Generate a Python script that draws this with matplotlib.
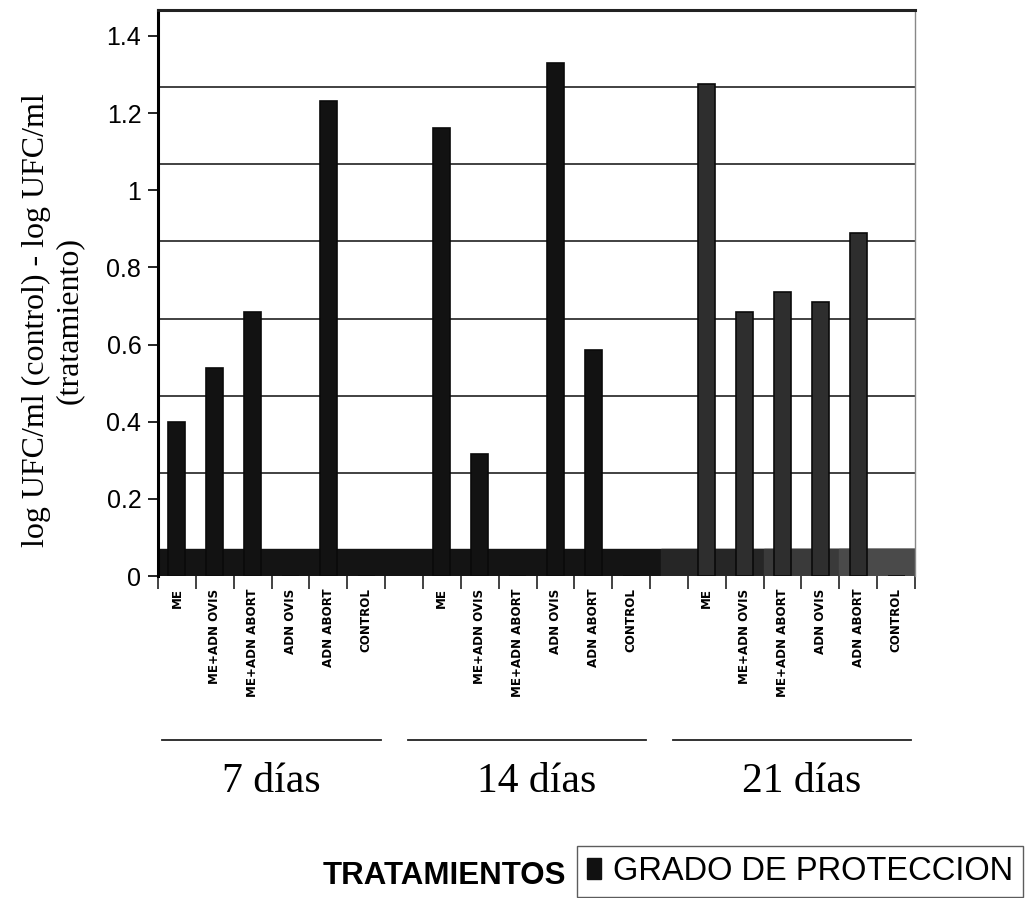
import matplotlib
matplotlib.use("Agg")
import matplotlib.pyplot as plt
import matplotlib.transforms as mtransforms
from matplotlib.patches import Patch
from matplotlib.ticker import FuncFormatter

# ---- data ----
groups = ["7 días", "14 días", "21 días"]
treatments = ["ME", "ME+ADN OVIS", "ME+ADN ABORT", "ADN OVIS", "ADN ABORT", "CONTROL"]
dias7 = [0.40, 0.54, 0.685, 0.0, 1.23, 0.0]
dias14 = [1.16, 0.315, 0.0, 1.33, 0.585, 0.0]
dias21 = [1.275, 0.685, 0.735, 0.71, 0.89, 0.0]
series = [dias7, dias14, dias21]
yticks = [0, 0.2, 0.4, 0.6, 0.8, 1.0, 1.2, 1.4]
ylabel = "log UFC/ml (control) - log UFC/ml\n(tratamiento)"
xlabel = "TRATAMIENTOS"
legend_label = "GRADO DE PROTECCION"

SERIF = ["Liberation Serif", "DejaVu Serif"]
SANS = ["Liberation Sans", "DejaVu Sans"]
LABEL_FONT = ["DejaVu Sans"]

fig = plt.figure(figsize=(10.32, 8.98), dpi=100)
ax = fig.add_axes([158 / 1032, 1 - 576 / 898, (915 - 158) / 1032, (576 - 10) / 898])

n = len(treatments)
slot = n + 1
nslots = len(groups) * slot - 1
ax.set_xlim(0, nslots)
ax.set_ylim(0, 1.467)

# floor band (3D floor)
floor_h = 0.07
ax.axhspan(0, floor_h, xmin=0, xmax=1, color="#141414", zorder=1)
ax.axhspan(0, floor_h, xmin=13.3 / nslots, xmax=1, color="#262626", zorder=1)
ax.axhspan(0, floor_h, xmin=16.0 / nslots, xmax=1, color="#3a3a3a", zorder=1)
ax.axhspan(0, floor_h, xmin=18.0 / nslots, xmax=1, color="#4a4a4a", zorder=1)

bar_colors = ["#121212", "#121212", "#2e2e2e"]
centers = []
labels = []
for g, vals in enumerate(series):
    xs = [g * slot + i + 0.5 for i in range(n)]
    centers += xs
    labels += treatments
    ax.bar(xs, vals, width=0.45, color=bar_colors[g], edgecolor="#0a0a0a",
           linewidth=1.2, zorder=3)

# axes ticks
ax.set_xticks(centers)
ax.set_xticklabels(labels, rotation=90, fontsize=8.6, fontweight="bold",
                   family=LABEL_FONT, va="top", ha="center")
ax.set_xticks(range(0, nslots + 1), minor=True)
ax.tick_params(axis="x", which="major", length=0, pad=9)
ax.tick_params(axis="x", which="minor", length=9, width=1.2, direction="out", color="#222")

ax.set_yticks(yticks)
ax.yaxis.set_major_formatter(FuncFormatter(lambda v, p: f"{v:g}"))
for t in ax.get_yticklabels():
    t.set_family(SANS)
    t.set_fontsize(18)
ax.tick_params(axis="y", length=7, width=1.2, direction="out", pad=5)

# back-wall gridlines (shifted up as in a 3D chart)
ax.yaxis.grid(True, color="#333", linewidth=1.3, zorder=0)
offset = mtransforms.ScaledTranslation(0, 26 / 100, fig.dpi_scale_trans)
for gl in ax.get_ygridlines():
    gl.set_transform(gl.get_transform() + offset)
    gl.set_zorder(0)
ax.set_axisbelow(True)

ax.spines["bottom"].set_visible(False)
ax.spines["left"].set_linewidth(2.2)
ax.spines["top"].set_linewidth(2.2)
ax.spines["top"].set_color("#222")
ax.spines["right"].set_linewidth(1.0)
ax.spines["right"].set_color("#888")

ax.set_ylabel(ylabel, family=SERIF, fontsize=23, linespacing=1.2)
ax.yaxis.set_label_coords((84 - 158) / 757, 0.452)

# group lines and labels
trans = mtransforms.blended_transform_factory(ax.transData, fig.transFigure)
for g, name in enumerate(groups):
    x0 = g * slot - 0.4 if g > 0 else 0.1
    x1 = g * slot + n - 0.1
    ax.plot([x0, x1], [1 - 740 / 898] * 2, color="#222", lw=1.3,
            transform=trans, clip_on=False)
    ax.text(g * slot + n / 2, 1 - 782 / 898, name, transform=trans,
            ha="center", va="center", family=SERIF, fontsize=30)

fig.text(566 / 1032, 1 - 876 / 898, xlabel, ha="right", va="center",
         family=SANS, fontweight="bold", fontsize=22.5)

leg = fig.legend(handles=[Patch(facecolor="#111", edgecolor="#111")],
                 labels=[legend_label], loc="upper left",
                 bbox_to_anchor=(577 / 1032, 1 - 846 / 898),
                 prop={"family": SANS, "size": 23.5}, fancybox=False,
                 handlelength=0.45, handleheight=0.6, handletextpad=0.35,
                 borderpad=0.3, borderaxespad=0)
leg.get_frame().set_edgecolor("#333")
leg.get_frame().set_linewidth(1.0)

fig.savefig("out.png", dpi=100)
